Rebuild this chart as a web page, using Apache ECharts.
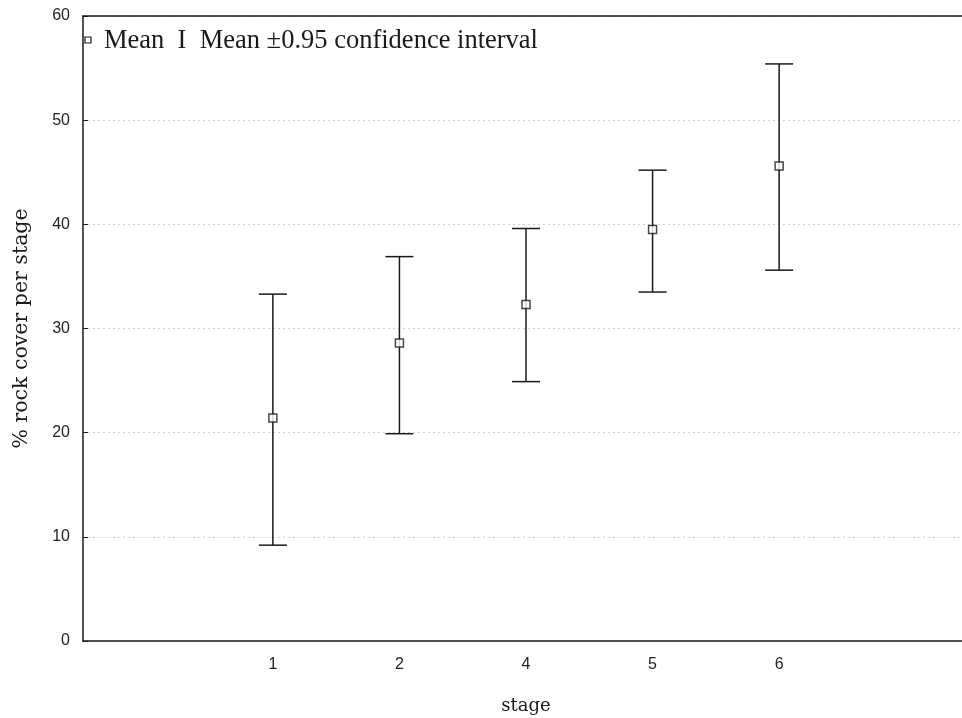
<!DOCTYPE html>
<html>
<head>
<meta charset="utf-8">
<script src="https://cdn.jsdelivr.net/npm/echarts@6/dist/echarts.min.js"></script>
<style>
  html, body { margin: 0; padding: 0; background: #fff; }
  #chart { width: 962px; height: 718px; }
</style>
</head>
<body>
<div id="chart"></div>
<script>
// stages on the x axis (empty slots at both ends, as in the original plot)
let stages = ['1', '2', '4', '5', '6']
let means = [21.4, 28.6, 32.3, 39.5, 45.6]
let lower = [9.2, 19.9, 24.9, 33.5, 35.6]
let upper = [33.3, 36.9, 39.6, 45.2, 55.4]
let yTicks = [0, 10, 20, 30, 40, 50, 60]

let axisCats = [''].concat(stages, [''])
let ink = '#1a1a1a'

let chart = echarts.init(document.getElementById('chart'))

let barData = stages.map(function (s, i) {
  return [i + 1, lower[i], upper[i]]
})
let meanData = stages.map(function (s, i) {
  return [i + 1, means[i]]
})

let option = {
  backgroundColor: '#fff',
  animation: false,
  // plot runs past the right edge of the picture, like the cropped original
  grid: { left: 83, width: 886, top: 16, height: 625, outerBoundsMode: 'none', containLabel: false },
  xAxis: [{
    type: 'category',
    data: axisCats,
    position: 'bottom',
    name: 'stage',
    nameLocation: 'middle',
    nameGap: 56,
    nameTextStyle: { fontFamily: 'DejaVu Serif', fontSize: 18, color: ink },
    axisLine: { lineStyle: { color: ink, width: 1.5 } },
    axisTick: { inside: true, alignWithLabel: true, interval: 0, length: 5, lineStyle: { color: ink } },
    axisLabel: { margin: 16, interval: 0, fontFamily: 'Liberation Sans', fontSize: 16, color: '#222' },
    splitLine: { show: false }
  }, {
    type: 'category',
    data: axisCats,
    position: 'top',
    axisLine: { lineStyle: { color: ink, width: 1.5 } },
    axisTick: { inside: true, alignWithLabel: true, interval: 0, length: 5, lineStyle: { color: ink } },
    axisLabel: { show: false }
  }],
  yAxis: {
    type: 'value',
    min: yTicks[0],
    max: yTicks[yTicks.length - 1],
    interval: 10,
    name: '% rock cover per stage',
    nameLocation: 'middle',
    nameGap: 51,
    nameTextStyle: { fontFamily: 'DejaVu Serif', fontSize: 20.5, color: ink },
    axisLine: { show: true, lineStyle: { color: ink, width: 1.5 } },
    axisTick: { show: true, inside: true, length: 5, lineStyle: { color: ink } },
    axisLabel: { margin: 13, fontFamily: 'Liberation Sans', fontSize: 16, color: '#222' },
    splitLine: { show: true, lineStyle: { color: '#cfcfcf', type: [2, 3], width: 1 } }
  },
  series: [{
    name: 'Mean ±0.95 confidence interval',
    type: 'custom',
    data: barData,
    z: 2,
    renderItem: function (params, api) {
      let x = api.value(0)
      let lo = api.coord([x, api.value(1)])
      let hi = api.coord([x, api.value(2)])
      let half = 14
      let style = { stroke: ink, lineWidth: 1.5, fill: null }
      return {
        type: 'group',
        children: [
          { type: 'line', shape: { x1: lo[0], y1: lo[1], x2: hi[0], y2: hi[1] }, style: style },
          { type: 'line', shape: { x1: lo[0] - half, y1: lo[1], x2: lo[0] + half, y2: lo[1] }, style: style },
          { type: 'line', shape: { x1: hi[0] - half, y1: hi[1], x2: hi[0] + half, y2: hi[1] }, style: style }
        ]
      }
    }
  }, {
    name: 'Mean',
    type: 'scatter',
    data: meanData,
    z: 3,
    symbol: 'rect',
    symbolSize: 8,
    itemStyle: { color: '#fff', borderColor: ink, borderWidth: 1.5 }
  }],
  graphic: [{
    type: 'rect',
    shape: { x: 85, y: 37, width: 6, height: 6 },
    style: { fill: '#fff', stroke: ink, lineWidth: 1.2 },
    z: 10
  }, {
    type: 'text',
    left: 104,
    top: 28,
    style: {
      text: 'Mean  I  Mean ±0.95 confidence interval',
      fontFamily: 'Liberation Serif',
      fontSize: 26.5,
      fill: ink
    },
    z: 10
  }]
}

chart.setOption(option)
</script>
</body>
</html>
